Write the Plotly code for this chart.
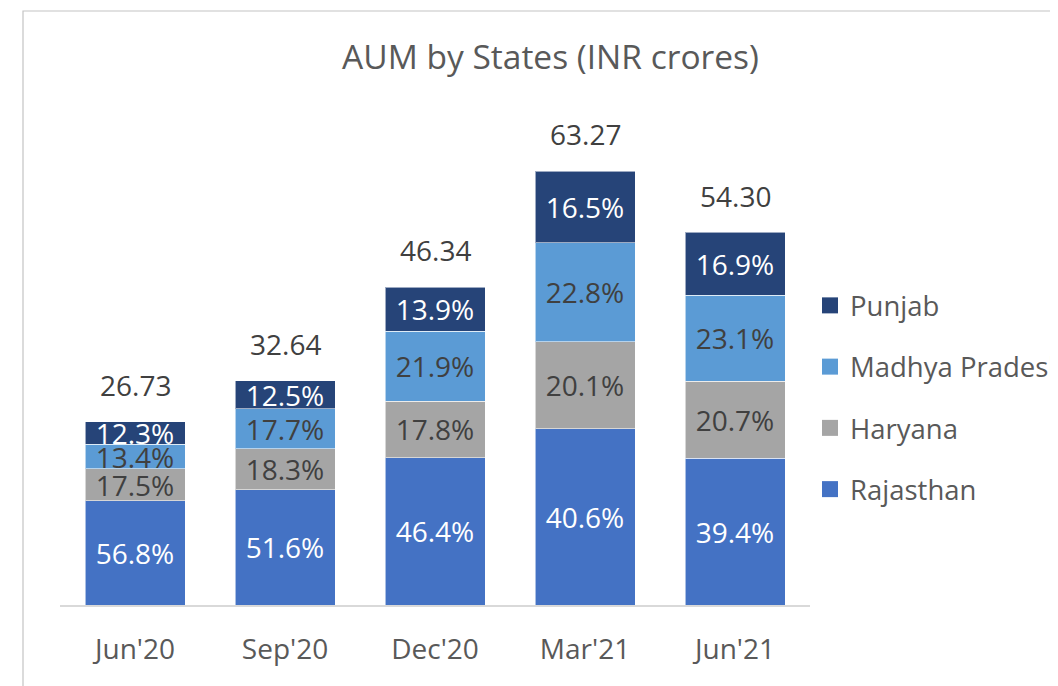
import plotly.graph_objects as go

categories = ["Jun'20", "Sep'20", "Dec'20", "Mar'21", "Jun'21"]
totals = [26.73, 32.64, 46.34, 63.27, 54.30]
total_labels = ["26.73", "32.64", "46.34", "63.27", "54.30"]

rajasthan_pct = [56.8, 51.6, 46.4, 40.6, 39.4]
haryana_pct = [17.5, 18.3, 17.8, 20.1, 20.7]
madhya_pradesh_pct = [13.4, 17.7, 21.9, 22.8, 23.1]
punjab_pct = [12.3, 12.5, 13.9, 16.5, 16.9]

series = [
    ("Rajasthan", rajasthan_pct, "#4472C4", "white", 4),
    ("Haryana", haryana_pct, "#A5A5A5", "#404040", 3),
    ("Madhya Pradesh", madhya_pradesh_pct, "#5B9BD5", "#404040", 2),
    ("Punjab", punjab_pct, "#264478", "white", 1),
]

FONT = "Open Sans"

# page has an 8px body margin: figure coords = page coords - 8
fig = go.Figure()
for name, pcts, color, tcolor, rank in series:
    heights = [t * p / 100.0 for t, p in zip(totals, pcts)]
    fig.add_trace(go.Bar(
        name=name,
        x=categories,
        y=heights,
        marker=dict(color=color, line=dict(color="rgba(255,255,255,0.55)", width=1)),
        text=[f"{p:.1f}%" for p in pcts],
        textposition="inside",
        insidetextanchor="middle",
        constraintext="none",
        textangle=0,
        textfont=dict(family=FONT, size=28, color=tcolor),
        legendgroup=name,
        showlegend=False,
        hoverinfo="skip",
    ))
    # legend entry with a larger square swatch
    fig.add_trace(go.Scatter(
        name=name,
        x=[categories[0]], y=[None],
        mode="markers",
        marker=dict(symbol="square", size=16, color=color, line=dict(width=0)),
        legendgroup=name,
        legendrank=rank,
        showlegend=True,
        hoverinfo="skip",
    ))

for c, t, lab in zip(categories, totals, total_labels):
    fig.add_annotation(
        x=c, y=t, text=lab, showarrow=False,
        yanchor="bottom", yshift=16,
        font=dict(family=FONT, size=28, color="#404040"),
    )

W, H = 1050, 678
L, T, PW, PH = 52, 117, 750, 480

# chart-area border (left & top visible)
fig.add_shape(
    type="rect", xref="paper", yref="paper",
    x0=(15 - L) / PW, x1=1.6, y0=-0.5, y1=(T + PH - 3) / PH,
    line=dict(color="#c4c4c4", width=1.2), fillcolor="rgba(0,0,0,0)",
    layer="below",
)

fig.update_layout(
    width=W, height=H,
    barmode="stack",
    bargap=1 / 3,
    paper_bgcolor="white",
    plot_bgcolor="white",
    margin=dict(l=L, r=W - L - PW, t=T, b=H - T - PH, autoexpand=False),
    title=dict(
        text="AUM by States (INR crores)",
        x=542.5 / W, xanchor="center",
        y=1 - 49 / H, yanchor="middle",
        xref="container", yref="container",
        font=dict(family=FONT, size=33.5, color="#595959"),
    ),
    legend=dict(
        x=1.0, xanchor="left",
        y=0.675, yanchor="top",
        traceorder="grouped",
        tracegroupgap=22.5,
        font=dict(family=FONT, size=27.5, color="#595959"),
        bgcolor="rgba(0,0,0,0)",
    ),
    xaxis=dict(
        showline=True, linecolor="#d9d9d9", linewidth=1.5,
        showgrid=False, ticks="", ticklabelstandoff=19,
        tickfont=dict(family=FONT, size=28, color="#595959"),
        fixedrange=True,
    ),
    yaxis=dict(
        range=[0, 70], visible=False, showgrid=False, zeroline=False,
        fixedrange=True,
    ),
    showlegend=True,
)

fig.write_html("out.html")
